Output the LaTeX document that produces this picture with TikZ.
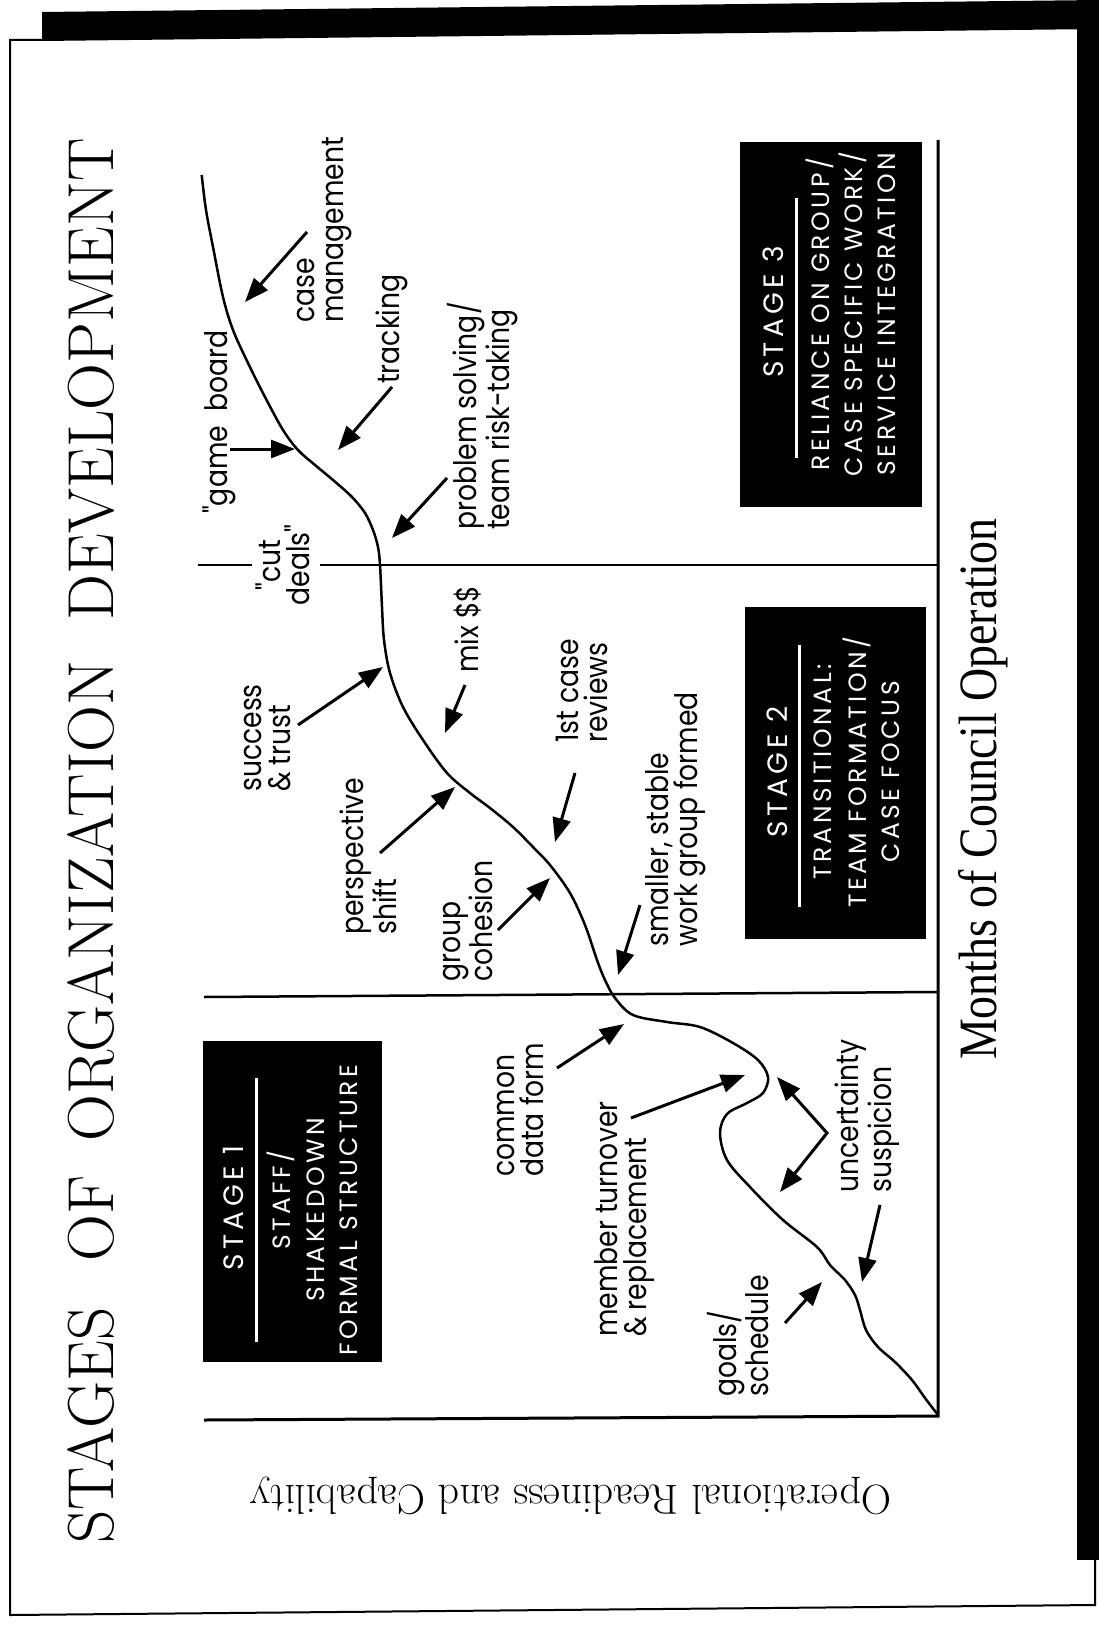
\documentclass[tikz,border=0pt]{standalone}
\usepackage{fontspec}
\usetikzlibrary{arrows.meta}
\newfontfamily\labelfont[FakeStretch=0.86]{Poppins}
\newfontfamily\stagefont[LetterSpace=15]{Poppins}
\newfontfamily\boxfont[LetterSpace=14]{Poppins}
\newfontfamily\axisfont[FakeStretch=0.85]{Liberation Serif}

\begin{document}
\begin{tikzpicture}[x=10pt,y=10pt,
  lbl/.style={rotate=90,anchor=west,align=left,inner sep=0pt,font=\labelfont\fontsize{31}{29}\selectfont},
  arr/.style={line width=3pt,-{Triangle[length=24pt,width=18pt]}},
  boxtext/.style={rotate=90,text=white,inner sep=0pt,font=\boxfont\fontsize{25}{25}\selectfont},
  stagetitle/.style={rotate=90,text=white,inner sep=0pt,font=\stagefont\fontsize{28}{28}\selectfont},
  curve/.style={line width=2.5pt,line join=round}]
\useasboundingbox (0,0) rectangle (109.9,-162.7);
\fill [white] (0,0) rectangle (109.9,-162.7);
\fill [black] (4.2,-1.2) -- (109.9,0) -- (109.9,-2.9) -- (4.2,-4.1) -- cycle;
\fill [black] (107.7,0) rectangle (109.9,-156.0);
\draw [line width=2pt] (4.2,-4.0) -- (1.0,-4.0) -- (1.0,-161.5) -- (109.5,-160.5) -- (109.5,-156.0);
\node (title) [rotate=90,inner sep=0pt,font=\fontsize{65}{65}\selectfont] at (9.1,-84.1)
  {STAGES\hspace{46pt}OF\hspace{34pt}ORGANIZATION\hspace{40pt}DEVELOPMENT};
\node (yaxis) [rotate=180,inner sep=0pt,font=\fontsize{42}{42}\selectfont] at (57.1,-149.6)
  {Operational Readiness and Capability};
\node (xaxis) [rotate=90,inner sep=0pt,font=\axisfont\fontsize{54}{54}\selectfont] at (98.3,-78.9)
  {Months of Council Operation};
\coordinate (o) at (93.8,-141.6);
\coordinate (ytop) at (20.4,-142.0);
\coordinate (xend) at (93.8,-14.0);
\draw [line width=3pt] (ytop) -- (o) -- (xend);
\draw [line width=2.5pt] (20.4,-99.7) -- (93.8,-99.2);
\draw [line width=2.5pt] (32.0,-56.5) -- (93.8,-56.5);
\draw [line width=2.5pt] (19.8,-56.5) -- (25.2,-56.5);
\fill [black] (20.3,-104.1) rectangle (38.2,-136.2);
\fill [black] (74.5,-60.7) rectangle (92.6,-93.9);
\fill [black] (74.0,-14.2) rectangle (92.2,-50.7);
\draw [white,line width=3pt] (25.6,-107.8) -- (25.6,-134.2);
\draw [white,line width=3pt] (79.9,-64.5) -- (79.9,-90.7);
\draw [white,line width=3pt] (79.6,-19.8) -- (79.6,-45.8);
\node (s1) [stagetitle] at (23.3,-120.8) {STAGE 1};
\node (s1a) [boxtext] at (28.1,-120.0) {STAFF/};
\node (s1b) [boxtext] at (31.6,-121.0) {SHAKEDOWN};
\node (s1c) [boxtext] at (34.9,-121.0) {FORMAL STRUCTURE};
\node (s2) [stagetitle] at (77.7,-77.2) {STAGE 2};
\node (s2a) [boxtext] at (82.3,-77.2) {TRANSITIONAL:};
\node (s2b) [boxtext] at (85.7,-77.2) {TEAM FORMATION/};
\node (s2c) [boxtext] at (89.1,-77.2) {CASE FOCUS};
\node (s3) [stagetitle] at (77.3,-31.2) {STAGE 3};
\node (s3a) [boxtext] at (82.0,-31.4) {RELIANCE ON GROUP/};
\node (s3b) [boxtext] at (85.3,-31.4) {CASE SPECIFIC WORK/};
\node (s3c) [boxtext] at (88.7,-31.4) {SERVICE INTEGRATION};
\draw [curve] plot [smooth,tension=0.55] coordinates {
  (20.17,-17.5) (20.6,-21.0) (21.3,-24.7) (22.3,-29.7) (23.3,-33.0) (24.8,-36.3)
  (26.5,-39.7) (28.3,-43.0) (29.8,-45.0) (31.5,-46.5) (33.3,-48.0) (35.2,-49.7)
  (36.5,-51.3) (37.3,-53.0) (37.8,-54.7) (38.0,-56.5) (38.2,-60.7) (38.4,-64.0)
  (39.0,-67.3) (40.3,-70.7) (42.3,-74.0) (44.7,-77.3) (47.0,-79.3) (49.0,-80.8)
  (51.3,-82.7) (53.3,-84.7) (55.0,-86.5) (57.0,-89.3) (58.5,-92.5) (59.7,-96.0)
  (60.5,-98.0) (61.5,-99.8) (63.3,-101.5) (66.7,-102.2) (70.0,-102.7) (73.3,-104.3)
  (75.8,-106.0) (76.8,-107.7) (76.3,-109.3) (74.7,-110.3) (72.7,-111.4) (72.0,-113.3)
  (72.7,-116.0) (75.0,-118.7) (78.3,-122.0) (81.7,-124.7) (83.0,-126.5) (84.5,-128.0)
  (85.5,-129.5) (86.0,-131.0) (86.6,-133.0) (87.8,-134.7) (89.5,-136.2) (91.2,-138.0)
  (92.5,-139.8) (93.8,-141.5)};
\node (casemg) [lbl] at (32.5,-32.3) {case\\management};
\node (track) [lbl] at (39.2,-38.4) {tracking};
\node (gameb) [lbl] at (21.9,-51.4) {"game\hspace{14pt}board};
\node (probl) [lbl] at (48.3,-53.0) {problem solving/\\team risk-taking};
\node (cutd) [rotate=90,align=center,inner sep=0pt,font=\labelfont\fontsize{31}{29}\selectfont] at (28.3,-56.5) {"cut\\deals"};
\node (mixd) [lbl] at (46.8,-67.3) {mix \$\$};
\node (succ) [lbl] at (26.8,-79.2) {success\\\& trust};
\node (persp) [lbl] at (36.8,-93.5) {perspective\\shift};
\node (firstc) [lbl] at (58.2,-74.3) {1st case\\reviews};
\node (cohes) [lbl] at (46.8,-98.2) {group\\cohesion};
\node (small) [lbl] at (67.6,-94.7) {smaller, stable\\work group formed};
\node (commd) [lbl] at (52.0,-117.7) {common\\data form};
\node (membr) [lbl] at (62.5,-133.7) {member turnover\\\& replacement};
\node (uncert) [lbl] at (86.7,-119.3) {uncertainty\\suspicion};
\node (goals) [lbl] at (73.8,-139.7) {goals/\\schedule};
\coordinate (casemg-t) at (30.7,-23.2);  \coordinate (casemg-h) at (24.5,-30.2);
\coordinate (gameb-t) at (23.0,-44.9);   \coordinate (gameb-h) at (29.5,-44.9);
\coordinate (track-t) at (39.2,-38.7);   \coordinate (track-h) at (33.8,-45.0);
\coordinate (probl-t) at (44.7,-47.8);   \coordinate (probl-h) at (39.2,-53.8);
\coordinate (succ-t) at (29.8,-72.5);    \coordinate (succ-h) at (38.3,-66.7);
\coordinate (mixd-t) at (46.5,-68.5);    \coordinate (mixd-h) at (44.5,-73.3);
\coordinate (persp-t) at (38.0,-85.3);   \coordinate (persp-h) at (45.5,-78.7);
\coordinate (firstc-t) at (57.5,-77.3);  \coordinate (firstc-h) at (55.5,-84.2);
\coordinate (cohes-t) at (49.8,-93.0);   \coordinate (cohes-h) at (55.0,-87.8);
\coordinate (small-t) at (64.0,-90.5);   \coordinate (small-h) at (61.8,-97.5);
\coordinate (commd-t) at (55.7,-106.8);  \coordinate (commd-h) at (62.4,-102.4);
\coordinate (membr-t) at (63.1,-111.8);  \coordinate (membr-h) at (74.5,-107.5);
\coordinate (uncert-v) at (82.7,-113.3); \coordinate (uncert-a) at (77.7,-107.7);
\coordinate (uncert-b) at (78.0,-119.2);
\coordinate (susp-t) at (88.0,-120.5);   \coordinate (susp-h) at (86.2,-128.2);
\coordinate (goals-t) at (78.5,-132.3);  \coordinate (goals-h) at (82.2,-128.2);
\draw [arr] (casemg-t) -- (casemg-h);
\draw [arr] (gameb-t) -- (gameb-h);
\draw [arr] (track-t) -- (track-h);
\draw [arr] (probl-t) -- (probl-h);
\draw [arr] (succ-t) -- (succ-h);
\draw [arr] (mixd-t) -- (mixd-h);
\draw [arr] (persp-t) -- (persp-h);
\draw [arr] (firstc-t) -- (firstc-h);
\draw [arr] (cohes-t) -- (cohes-h);
\draw [arr] (small-t) -- (small-h);
\draw [arr] (commd-t) -- (commd-h);
\draw [arr] (membr-t) -- (membr-h);
\draw [line width=3pt,{Triangle[length=24pt,width=18pt]}-{Triangle[length=24pt,width=18pt]}] (uncert-a) -- (uncert-v) -- (uncert-b);
\draw [arr] (susp-t) -- (susp-h);
\draw [arr] (goals-t) -- (goals-h);
\end{tikzpicture}
\end{document}
